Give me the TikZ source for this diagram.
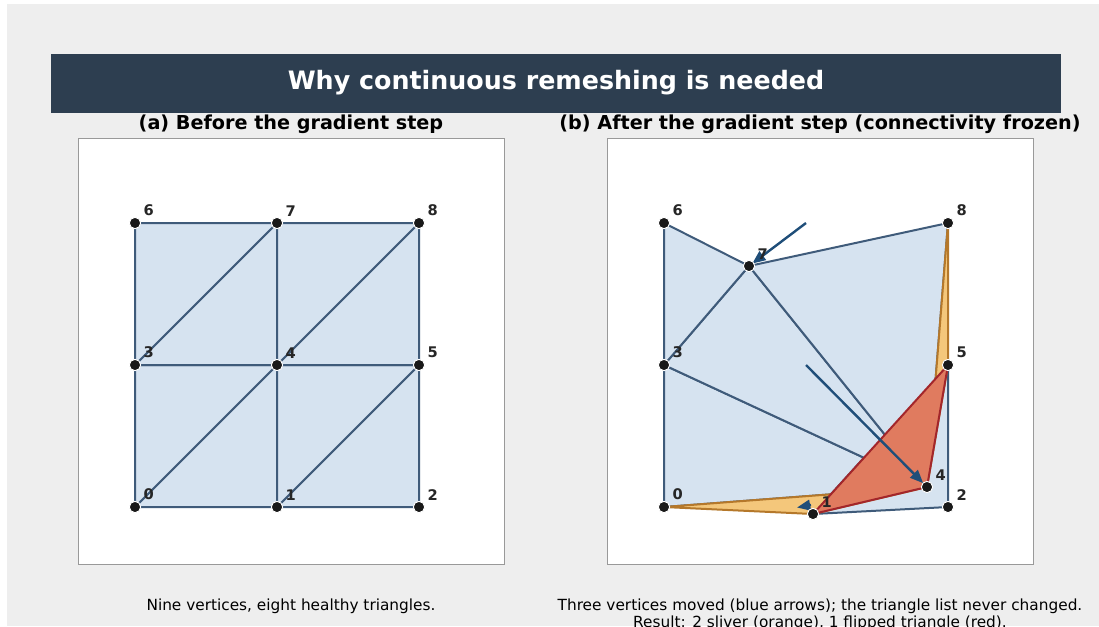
\documentclass[tikz,border=0pt]{standalone}
\usepackage{fontspec}
\setmainfont{DejaVu Sans}
\usetikzlibrary{arrows.meta, positioning, calc}

\definecolor{pagebg}{HTML}{EEEEEE}
\definecolor{banner}{HTML}{2D3E50}
\definecolor{meshfill}{HTML}{D6E3F0}
\definecolor{meshedge}{HTML}{3F5B7A}
\definecolor{slvfill}{HTML}{F4C77B}
\definecolor{slvedge}{HTML}{B5782A}
\definecolor{flpfill}{HTML}{E07B5F}
\definecolor{flpedge}{HTML}{A3262B}
\definecolor{moveblue}{HTML}{1F4E79}

\tikzset{
  tri/.style     = {fill=meshfill, draw=meshedge, line width=1.5pt, line join=round},
  sliver/.style  = {fill=slvfill, draw=slvedge, line width=1.5pt, line join=round},
  flipped/.style = {fill=flpfill, draw=flpedge, line width=1.5pt, line join=round},
  vtx/.style     = {circle, fill=black!90, draw=white, line width=0.7pt,
                    minimum size=8.5pt, inner sep=0pt, label distance=1.5pt},
  vlbl/.style    = {font=\fontsize{11}{13}\selectfont\bfseries, text=black!85,
                    inner sep=1pt, xshift=2pt, yshift=0.8pt},
  panel/.style   = {draw=black!40, fill=white, line width=0.6pt},
  move/.style    = {-{Triangle[length=10pt, width=8pt]}, draw=moveblue, line width=1.8pt},
  ttl/.style     = {font=\fontsize{19}{23}\selectfont\bfseries, text=white},
  ptitle/.style  = {font=\fontsize{14.4}{17}\selectfont\bfseries},
  note/.style    = {font=\fontsize{11.5}{13}\selectfont, align=center}
}

\begin{document}
\begin{tikzpicture}[x=0.75pt, y=-0.75pt]

  \useasboundingbox (0,0) rectangle (1099,626);
  \fill[pagebg] (7,4) rectangle (1099,626);

  % ── Banner and panel titles ───────────────────────────────────────────────
  \fill[banner] (51,54) rectangle (1061,113);
  \node[ttl]    (title)  at (556,83)  {Why continuous remeshing is needed};
  \node[ptitle] (titleA) at (291,124) {(a) Before the gradient step};
  \node[ptitle] (titleB) at (820,124) {(b) After the gradient step (connectivity frozen)};

  \draw[panel] (78,138)  rectangle (504,564);
  \draw[panel] (607,138) rectangle (1033,564);

  % ── (a) regular mesh ──────────────────────────────────────────────────────
  \foreach \i/\x/\y in {0/135/507, 1/277/507, 2/419/507,
                        3/135/365, 4/277/365, 5/419/365,
                        6/135/223, 7/277/223, 8/419/223}
    \coordinate (a\i) at (\x,\y);

  \foreach \p/\q/\r in {0/1/4, 0/4/3, 1/2/5, 1/5/4, 3/4/7, 3/7/6, 4/5/8, 4/8/7}
    \filldraw[tri] (a\p) -- (a\q) -- (a\r) -- cycle;

  \foreach \i in {0,...,8}
    \node[vtx, label={[vlbl]45:\i}] (va\i) at (a\i) {};

  % ── (b) same triangles, moved vertices ───────────────────────────────────
  \coordinate (b0) at (664,507);
  \coordinate (b1) at (813,514);
  \coordinate (b2) at (948,507);
  \coordinate (b3) at (664,365);
  \coordinate (b4) at (927,487);
  \coordinate (b5) at (948,365);
  \coordinate (b6) at (664,223);
  \coordinate (b7) at (749,266);
  \coordinate (b8) at (948,223);

  % old positions
  \coordinate (o7) at (806,223);
  \coordinate (o4) at (806,365);
  \coordinate (s1) at (811,505);
  \coordinate (h1) at (797,507.5);

  \foreach \p/\q/\r in {0/4/3, 1/2/5, 3/4/7, 3/7/6, 4/8/7}
    \filldraw[tri] (b\p) -- (b\q) -- (b\r) -- cycle;

  % slivers
  \filldraw[sliver] (b0) -- (b1) -- (b4) -- cycle;
  \filldraw[sliver] (b4) -- (b5) -- (b8) -- cycle;

  % flipped
  \filldraw[flipped] (b1) -- (b5) -- (b4) -- cycle;

  % displacement arrows
  \draw[move, shorten >=3pt] (o7) -- (b7);
  \draw[move, shorten >=4pt] (o4) -- (b4);
  \draw[move] (s1) -- (h1);

  \foreach \i in {0,...,8}
    \node[vtx, label={[vlbl]45:\i}] (vb\i) at (b\i) {};

  % ── Captions ──────────────────────────────────────────────────────────────
  \node[note] (capA) at (291,606) {Nine vertices, eight healthy triangles.};
  \node[note] (capB) at (820,614.5)
        {Three vertices moved (blue arrows); the triangle list never changed.\\
         Result: 2 sliver (orange), 1 flipped triangle (red).};

\end{tikzpicture}
\end{document}
